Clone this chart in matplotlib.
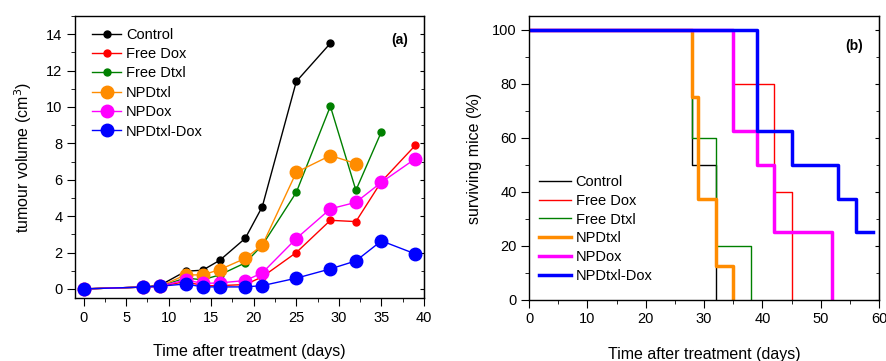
import matplotlib
matplotlib.use("Agg")
import matplotlib.pyplot as plt
from matplotlib.ticker import MultipleLocator

plt.rcParams['font.family'] = ['Liberation Sans', 'DejaVu Sans']

# ---- Panel (a): tumour volume ----
days_full = [0, 7, 9, 12, 14, 16, 19, 21, 25, 29, 32, 35, 39]
control = [0, 0.1, 0.2, 0.97, 1.03, 1.57, 2.78, 4.52, 11.4, 13.5]
free_dox = [0, 0.1, 0.15, 0.4, 0.18, 0.18, 0.24, 0.66, 2.0, 3.77, 3.7, 5.9, 7.9]
free_dtxl = [0, 0.1, 0.15, 0.6, 0.5, 0.77, 1.43, 2.4, 5.31, 10.04, 5.42, 8.64]
np_dtxl = [0, 0.1, 0.15, 0.77, 0.77, 1.06, 1.68, 2.4, 6.41, 7.33, 6.89]
np_dox = [0, 0.1, 0.15, 0.5, 0.3, 0.33, 0.46, 0.88, 2.77, 4.4, 4.76, 5.86, 7.16]
np_dtxl_dox = [0, 0.1, 0.15, 0.27, 0.11, 0.11, 0.11, 0.18, 0.59, 1.1, 1.54, 2.64, 1.92]

series_a = [
    ("Control", control, 'black', 5),
    ("Free Dox", free_dox, 'red', 5),
    ("Free Dtxl", free_dtxl, 'green', 5),
    ("NPDtxl", np_dtxl, '#ff8c00', 9),
    ("NPDox", np_dox, 'magenta', 9),
    ("NPDtxl-Dox", np_dtxl_dox, 'blue', 9),
]

# ---- Panel (b): survival ----
surv = [
    ("Control", [0, 28, 32], [100, 50, 0], 'black', 1.0),
    ("Free Dox", [0, 35, 42, 45], [100, 80, 40, 0], 'red', 1.0),
    ("Free Dtxl", [0, 28, 32, 38], [100, 60, 20, 0], 'green', 1.0),
    ("NPDtxl", [0, 28, 29, 32, 35], [100, 75, 37.5, 12.5, 0], '#ff8c00', 2.5),
    ("NPDox", [0, 35, 39, 42, 52], [100, 62.5, 50, 25, 0], 'magenta', 2.5),
    ("NPDtxl-Dox", [0, 39, 45, 53, 56, 59], [100, 62.5, 50, 37.5, 25, 25], 'blue', 2.5),
]

fig = plt.figure(figsize=(8.87, 3.61), dpi=100)
ax1 = fig.add_axes([0.0846, 0.1745, 0.3934, 0.7812])
ax2 = fig.add_axes([0.5964, 0.169, 0.3946, 0.7867])

for name, vals, col, ms in series_a:
    ax1.plot(days_full[:len(vals)], vals, '-', color=col, lw=1.0, marker='o',
             ms=ms, label=name)

ax1.set_xlim(-1, 40)
ax1.set_ylim(-0.5, 15)
ax1.xaxis.set_major_locator(MultipleLocator(5))
ax1.xaxis.set_minor_locator(MultipleLocator(2.5))
ax1.yaxis.set_major_locator(MultipleLocator(2))
ax1.yaxis.set_minor_locator(MultipleLocator(1))
ax1.set_xlabel("Time after treatment (days)", fontsize=11.5, labelpad=14)
ax1.set_ylabel("tumour volume (cm$^3$)", fontsize=11.5, labelpad=9)
ax1.text(0.955, 0.915, "(a)", transform=ax1.transAxes, fontsize=10,
         fontweight='bold', ha='right', va='center')
ax1.legend(loc='upper left', frameon=False, handlelength=2.0,
           borderaxespad=0.3, labelspacing=0.37, handletextpad=0.3,
           bbox_to_anchor=(0.02, 0.995), prop={'size': 10.5})

for name, t, s, col, lw in surv:
    ax2.step(t, s, where='post', color=col, lw=lw, label=name)

ax2.set_xlim(0, 60)
ax2.set_ylim(0, 105)
ax2.xaxis.set_major_locator(MultipleLocator(10))
ax2.xaxis.set_minor_locator(MultipleLocator(5))
ax2.yaxis.set_major_locator(MultipleLocator(20))
ax2.yaxis.set_minor_locator(MultipleLocator(10))
ax2.set_xlabel("Time after treatment (days)", fontsize=11.5, labelpad=14.5)
ax2.set_ylabel("surviving mice (%)", fontsize=11.5, labelpad=7)
ax2.text(0.955, 0.894, "(b)", transform=ax2.transAxes, fontsize=10,
         fontweight='bold', ha='right', va='center')
ax2.legend(loc='lower left', frameon=False, handlelength=2.2,
           borderaxespad=0.3, labelspacing=0.33, handletextpad=0.3,
           bbox_to_anchor=(0.0, 0.024), prop={'size': 10.5})

for ax in (ax1, ax2):
    ax.tick_params(axis='both', which='both', direction='out', labelsize=10.5)
    ax.tick_params(which='major', length=5.5)
    ax.tick_params(which='minor', length=3)
    for sp in ax.spines.values():
        sp.set_linewidth(1.0)
    sec = ax.secondary_yaxis('right')
    sec.yaxis.set_major_locator(ax.yaxis.get_major_locator())
    sec.yaxis.set_minor_locator(ax.yaxis.get_minor_locator())
    sec.tick_params(which='both', direction='in', labelright=False)
    sec.tick_params(which='major', length=3)
    sec.tick_params(which='minor', length=2)

fig.savefig("out.png", dpi=100)
